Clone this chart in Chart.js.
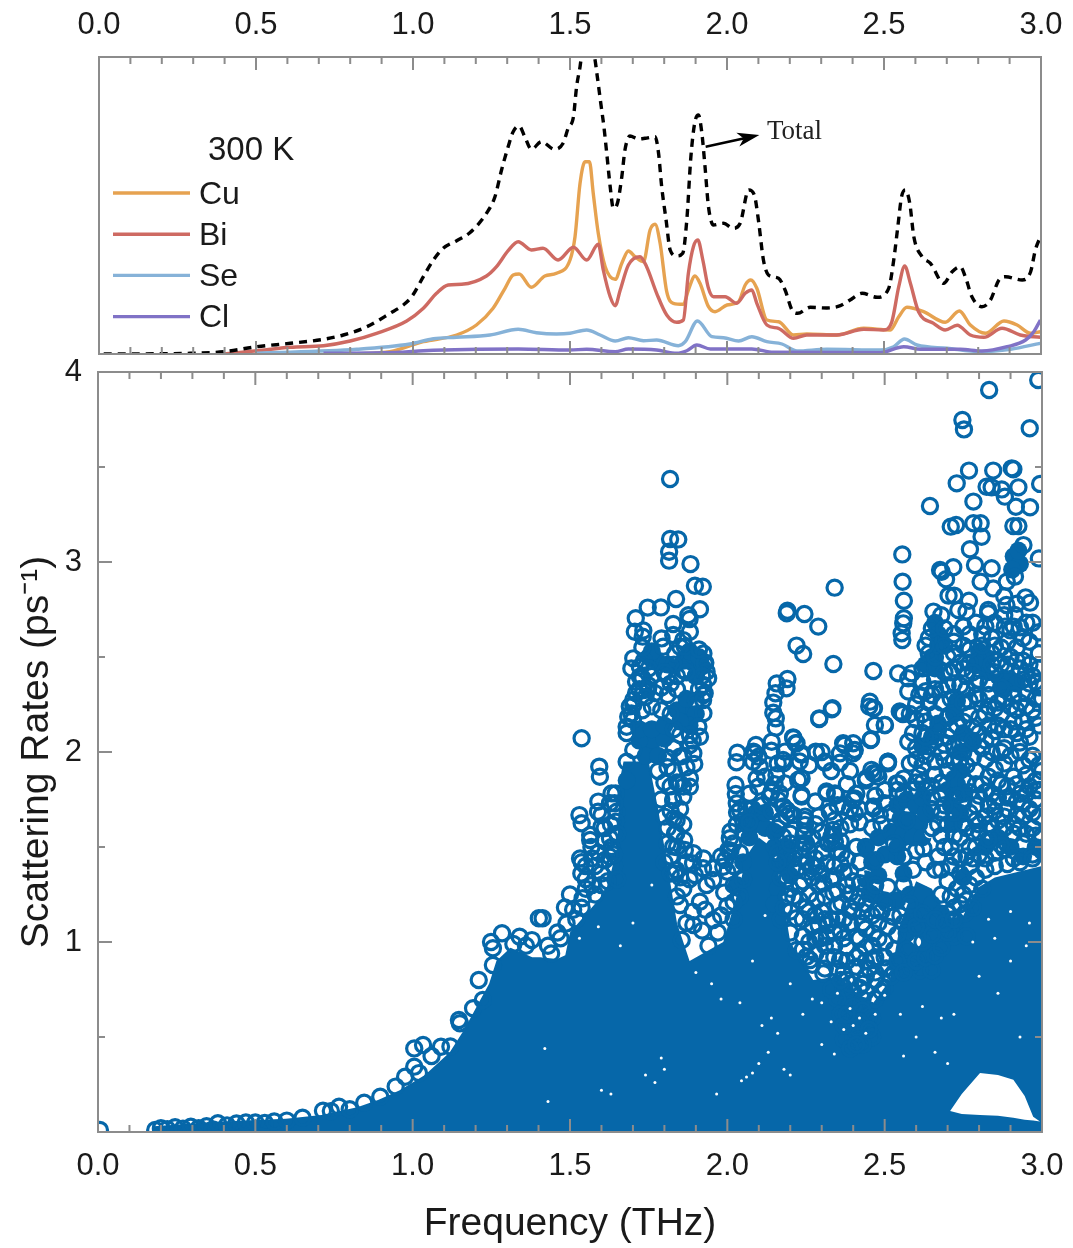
<!DOCTYPE html>
<html>
<head>
<meta charset="utf-8">
<title>Scattering rates</title>
<script src="https://cdn.jsdelivr.net/npm/chart.js@4"></script>
<style>
  html, body { margin: 0; padding: 0; background: #fff; }
  body { width: 1073px; height: 1248px; position: relative; overflow: hidden; }
  canvas { position: absolute; left: 0; }
  #dos { top: 0; }
  #rates { top: 354px; }
</style>
</head>
<body>
<canvas id="dos" width="1073" height="356"></canvas>
<canvas id="rates" width="1073" height="894"></canvas>
<script>
// ---- top panel: density of states (arbitrary units) ----
const totalFreq = [0.015,0.29,0.397,0.503,0.609,0.715,0.778,0.853,0.927,0.969,0.996,1.033,1.065,1.096,1.139,1.181,1.234,1.261,1.282,1.303,1.319,1.338,1.356,1.377,1.409,1.451,1.478,1.494,1.511,1.521,1.532,1.538,1.558,1.578,1.587,1.598,1.608,1.617,1.628,1.638,1.651,1.665,1.675,1.691,1.718,1.739,1.771,1.782,1.792,1.806,1.819,1.84,1.859,1.872,1.885,1.897,1.909,1.92,1.93,1.941,1.957,1.989,2.02,2.042,2.069,2.087,2.1,2.116,2.132,2.164,2.185,2.207,2.225,2.265,2.318,2.361,2.392,2.43,2.478,2.515,2.531,2.544,2.556,2.568,2.582,2.595,2.621,2.648,2.69,2.717,2.743,2.759,2.78,2.812,2.839,2.866,2.887,2.94,2.967,2.982,2.998];
const totalDos = [0,0.07,0.23,0.73,1.07,1.47,1.9,2.73,4.07,4.9,5.73,7.73,9.4,10.57,11.33,12.13,14.07,15.73,18.4,20.73,22.23,22.8,21.73,20.47,21.23,20.47,21.07,22.57,23.73,26.73,28.73,30.07,31.6,29.73,27.73,25.07,22.73,20.07,16.73,14.57,15.07,17.73,20.4,21.8,21.5,21.57,21.73,20.07,16.73,13.4,10.4,9.8,10.07,13.4,19.73,23.07,23.9,22.07,18.73,14.73,12.9,13.07,12.57,13.07,16.4,15.9,13.4,9.4,7.9,7.57,6.4,4.4,4.07,4.67,4.6,4.83,5.4,6.07,5.67,6.57,9.4,12.73,15.73,16.4,15.07,11.73,9.73,9.07,7.07,8.23,8.73,7.73,5.73,4.73,5.4,7.4,7.73,7.4,8.23,10.4,11.73];

const cuFreq = [0.821,0.927,1.033,1.139,1.202,1.255,1.293,1.319,1.338,1.377,1.42,1.457,1.5,1.516,1.532,1.548,1.562,1.574,1.59,1.612,1.644,1.665,1.686,1.707,1.734,1.755,1.771,1.787,1.808,1.829,1.861,1.877,1.898,1.914,1.941,1.962,2.0,2.037,2.058,2.076,2.095,2.127,2.164,2.212,2.254,2.35,2.435,2.52,2.547,2.573,2.626,2.695,2.74,2.775,2.823,2.882,2.924,2.967,2.998];
const cuDos = [0,0.23,1.23,1.9,2.9,4.57,6.57,7.9,8.0,6.67,7.8,8.07,9.4,11.73,17.07,19.23,19.23,16.07,12.07,8.73,7.47,9.07,10.3,9.73,9.23,12.4,12.97,11.07,6.23,5.07,4.97,6.4,7.8,7.07,4.73,4.23,4.9,5.23,6.9,7.4,6.57,3.4,3.23,1.9,2.0,1.9,2.57,2.4,3.73,4.67,4.23,3.17,4.3,2.9,2.07,3.3,2.9,2.07,2.23];

const biFreq = [0.397,0.503,0.609,0.715,0.8,0.884,0.98,1.033,1.075,1.112,1.155,1.234,1.266,1.303,1.335,1.377,1.414,1.462,1.511,1.553,1.59,1.606,1.628,1.644,1.66,1.686,1.723,1.744,1.776,1.808,1.84,1.861,1.877,1.893,1.907,1.923,1.941,1.957,1.994,2.031,2.058,2.079,2.095,2.127,2.164,2.212,2.254,2.35,2.435,2.499,2.525,2.547,2.566,2.584,2.61,2.658,2.695,2.733,2.775,2.818,2.876,2.934,2.998];
const biDos = [0,0.33,0.67,0.83,1.3,2.07,3.3,4.57,6.07,6.9,6.97,7.8,8.73,10.33,11.23,10.4,10.57,9.4,10.67,9.4,10.97,8.4,5.73,4.83,6.4,8.9,9.73,8.73,6.07,3.9,3.17,3.4,8.07,10.73,11.4,9.4,6.57,5.73,5.73,5.07,6.07,6.4,5.07,2.9,2.57,1.57,1.9,1.9,2.47,2.4,3.23,6.73,8.8,7.07,4.23,3.07,2.4,2.87,1.9,1.67,2.57,1.9,1.67];

const seFreq = [0.503,0.821,0.99,1.065,1.139,1.245,1.335,1.393,1.457,1.5,1.553,1.596,1.644,1.686,1.734,1.776,1.845,1.867,1.906,1.952,1.989,2.037,2.079,2.127,2.175,2.223,2.318,2.488,2.531,2.565,2.605,2.701,2.807,2.903,2.998];
const seDos = [0.07,0.47,1,1.53,1.67,1.9,2.47,2.13,2,2.07,2.4,1.9,1.3,1.63,1.33,1.4,0.83,1.23,3.3,1.73,1.63,1.3,1.73,1.23,1,0.3,0.47,0.4,0.73,1.5,0.9,0.57,0.23,0.47,1.07];

const clFreq = [0.715,0.96,1.033,1.335,1.499,1.553,1.644,1.686,1.776,1.84,1.872,1.904,1.947,2.079,2.148,2.488,2.563,2.616,2.743,2.812,2.892,2.951,2.977,2.998];
const clDos = [0.07,0.17,0.33,0.5,0.4,0.47,0.23,0.5,0.4,0.07,0.33,0.9,0.5,0.5,0.17,0.13,0.73,0.47,0.47,0.3,0.73,1.4,2.23,3.4];

const legendNames = ['Cu', 'Bi', 'Se', 'Cl'];
const legendColors = ['#E6A250', '#CE6A62', '#86B2D8', '#8072C6'];

// ---- lower panel: scattering rates, [frequency, rate] ----
const coreFreq = [0.17,0.177,0.392,0.597,0.71,0.824,0.892,0.959,1.039,1.118,1.164,1.21,1.243,1.266,1.311,1.38,1.405,1.459,1.485,1.5,1.563,1.616,1.65,1.658,1.67,1.75,1.78,1.8,1.82,1.84,1.88,1.987,2.04,2.06,2.1,2.14,2.16,2.18,2.2,2.273,2.36,2.411,2.464,2.517,2.55,2.6,2.65,2.7,2.75,2.79,2.85,3.0];
const coreRate = [0,0.03,0.055,0.07,0.09,0.13,0.17,0.22,0.3,0.42,0.54,0.68,0.78,0.9,0.97,0.92,0.92,0.91,0.93,1.05,1.17,1.27,1.5,1.85,1.95,1.95,1.7,1.5,1.3,1.1,0.9,1.0,1.3,1.45,1.55,1.5,1.38,1.2,1.0,0.8,0.82,0.72,0.68,0.8,1.1,1.32,1.28,1.12,1.14,1.28,1.34,1.4];

const holeFreq = [2.708,2.745,2.803,2.86,2.909,2.945,2.972,2.994];
const holeTop = [0.11,0.2,0.31,0.3,0.275,0.19,0.08,0.055];
const holeBottom = [0.11,0.095,0.09,0.085,0.075,0.065,0.06,0.055];

const ringsEdge = [[0.006,0.011],[0.182,0.011],[0.2,0.02],[0.22,0.015],[0.245,0.025],[0.27,0.018],[0.295,0.028],[0.32,0.02],[0.345,0.03],[0.365,0.014],[0.381,0.046],[0.41,0.035],[0.44,0.045],[0.47,0.05],[0.5,0.05],[0.53,0.048],[0.56,0.055],[0.6,0.06],[0.65,0.075],[0.715,0.112],[0.74,0.11],[0.766,0.133],[0.8,0.12],[0.846,0.154],[0.897,0.186],[0.946,0.239],[0.976,0.291],[1.005,0.344],[1.02,0.31],[1.005,0.44],[1.033,0.458],[1.06,0.4],[1.09,0.449],[1.12,0.45],[1.147,0.59],[1.15,0.572],[1.192,0.651],[1.21,0.8],[1.223,0.695],[1.249,1.0],[1.255,0.967],[1.255,0.879],[1.284,1.046],[1.34,1.028],[1.379,1.01],[1.401,1.125],[1.413,1.125],[1.36,0.98],[1.32,0.99],[1.44,0.94],[1.484,1.182],[1.489,1.098],[1.47,1.02],[1.52,1.12],[1.54,1.23],[1.537,1.18],[1.532,1.44],[1.537,1.42],[1.536,1.361],[1.55,1.33],[1.53,1.668],[1.537,1.625],[1.537,2.072],[1.593,1.923],[1.59,1.739],[1.6,1.668],[1.564,1.563],[1.564,1.537],[1.632,1.782],[1.645,1.782],[1.648,1.686],[1.627,1.546],[1.632,1.484],[1.61,1.43],[1.58,1.4],[1.6,1.36],[1.57,1.3],[1.62,1.32],[1.63,1.62],[1.61,1.6],[1.595,1.87],[1.627,1.73],[1.642,1.73],[1.589,1.686],[1.6,1.607],[1.646,1.633],[1.568,1.5],[1.632,1.5],[1.627,1.449],[1.55,1.28],[1.58,1.25],[1.6,1.3],[1.64,1.4],[1.65,1.33],[1.59,1.47],[1.57,1.44],[1.55,1.4],[1.61,1.53],[1.65,1.57],[1.64,1.46],[1.51,1.17],[1.46,1.05],[1.5,1.25],[1.43,0.98]];

const ringsPeak = [[1.818,3.437],[1.818,3.121],[1.844,3.119],[1.815,3.054],[1.815,3.007],[1.883,2.989],[1.897,2.875],[1.922,2.87],[1.837,2.805],[1.747,2.76],[1.789,2.761],[1.709,2.704],[1.876,2.72],[1.913,2.751],[1.88,2.7],[1.828,2.674],[1.731,2.607],[1.733,2.64],[1.791,2.598],[1.86,2.589],[1.85,2.554],[1.834,2.519],[1.924,2.519],[1.934,2.423],[1.93,2.47],[1.924,2.353],[1.924,2.3],[1.924,2.204],[1.908,2.133],[1.881,2.09],[1.892,1.993],[1.685,2.186],[1.701,2.274],[1.69,2.24],[1.71,2.31],[1.701,2.493],[1.722,2.449],[1.735,2.48],[1.73,2.39],[1.75,2.35],[1.77,2.31],[1.72,2.33],[1.68,2.1],[1.7,2.17],[1.73,2.22],[1.76,2.24],[1.79,2.22],[1.81,2.3],[1.82,2.36],[1.84,2.4],[1.86,2.43],[1.83,2.46],[1.9,2.4],[1.91,2.33],[1.9,2.27],[1.89,2.06],[1.85,2.09],[1.83,2.02],[1.86,1.98],[1.81,1.97],[1.83,1.9],[1.87,1.92],[1.84,1.84],[1.881,1.861],[1.86,1.818],[1.828,1.747],[1.839,1.642],[1.834,1.572],[1.863,1.537],[1.892,1.467],[1.924,1.44],[1.82,1.69],[1.85,1.7],[1.81,1.6],[1.86,1.62],[1.84,1.5],[1.82,1.45],[1.834,1.361],[1.897,1.353],[1.955,1.388],[1.87,1.42],[1.88,1.33],[1.86,1.28],[1.84,1.24],[1.85,1.195],[1.913,1.212],[1.892,1.089],[1.955,1.116],[1.855,1.011],[1.934,1.3],[1.93,1.17],[1.98,1.14],[1.89,1.16],[1.92,1.06],[1.87,1.1],[1.706,2.633],[1.828,2.616],[1.881,2.633],[1.73,2.55],[1.796,2.554],[1.865,2.554],[1.695,2.44],[1.722,2.396],[1.733,2.326],[1.748,2.33],[1.928,2.467],[1.939,2.388],[1.928,2.309],[1.923,2.274],[1.701,2.247],[1.695,2.203],[1.68,2.133],[1.913,2.08],[1.881,2.037],[1.895,1.937],[1.849,1.975],[1.68,1.949],[1.701,2.01],[1.881,1.817],[1.849,1.835],[1.86,1.765],[1.828,1.747],[1.838,1.572],[1.828,1.502],[1.865,1.484],[1.891,1.414],[1.923,1.388],[1.838,1.379],[1.81,1.52],[1.8,1.66],[1.79,1.75],[1.8,1.84],[1.81,1.92],[1.82,1.82],[1.78,1.9],[1.83,1.65],[1.8,1.42],[1.82,1.36],[1.85,1.34],[1.79,2.34],[1.81,2.4],[1.76,2.4],[1.74,2.29],[1.71,2.37],[1.75,2.44],[1.8,2.42],[1.84,2.33],[1.83,2.12],[1.82,2.2],[1.92,2.4],[1.91,2.54],[1.87,2.42]];

const ringsValley = [[2.026,1.826],[2.093,1.861],[2.03,1.73],[2.04,1.695],[2.008,1.546],[1.993,1.432],[1.98,1.45],[2.01,1.48],[2.05,1.58],[2.0,1.37],[1.99,1.26],[2.02,1.3],[2.07,1.78],[2.12,1.87],[2.15,1.83],[2.162,1.747],[2.189,1.695],[2.21,1.668],[2.14,1.79],[2.17,1.64],[2.2,1.57],[2.18,1.5],[2.16,1.47],[2.19,1.42],[2.236,1.861],[2.236,1.774],[2.247,1.66],[2.247,1.616],[2.242,1.563],[2.231,1.484],[2.252,1.37],[2.242,1.318],[2.189,1.239],[2.22,1.125],[2.279,1.142],[2.295,1.019],[2.252,0.923],[2.316,1.782],[2.342,1.782],[2.326,1.686],[2.337,1.563],[2.342,1.528],[2.363,1.467],[2.4,1.747],[2.464,1.704],[2.42,1.63],[2.464,1.888],[2.475,1.888],[2.51,1.94],[2.485,1.668],[2.543,1.835],[2.21,1.44],[2.26,1.48],[2.2,1.28],[2.23,1.22],[2.25,1.18],[2.17,1.12],[2.2,1.05],[2.24,1.03],[2.27,1.08],[2.284,1.396],[2.316,1.414],[2.337,1.344],[2.305,1.309],[2.284,1.221],[2.337,1.256],[2.363,1.204],[2.39,1.256],[2.422,1.309],[2.453,1.256],[2.475,1.168],[2.506,1.204],[2.527,1.133],[2.464,1.046],[2.411,1.028],[2.379,0.975],[2.358,0.905],[2.295,1.028],[2.316,1.028],[2.263,0.905],[2.22,0.958],[2.305,0.835],[2.464,0.905],[2.506,0.861],[2.549,0.905],[2.58,0.87],[2.612,0.853],[2.649,0.853],[2.57,1.046],[2.612,1.08],[2.33,1.12],[2.39,1.1],[2.43,1.16],[2.44,0.97],[2.5,1.0],[2.53,0.96],[2.41,0.87],[2.34,0.98],[2.38,0.8],[2.43,0.78],[2.47,0.8],[2.38,0.68],[2.41,0.62],[2.39,0.58],[2.44,0.56],[2.4,0.5],[2.42,0.52],[2.37,0.49],[2.46,0.5],[2.3,1.47],[2.27,1.55],[2.36,1.6],[2.39,1.62],[2.44,1.5],[2.47,1.43],[2.42,1.42],[2.37,1.37],[2.29,1.66],[2.28,1.74],[2.38,1.83],[2.26,1.93],[2.3,2.0],[2.41,1.78],[2.44,1.85],[2.5,1.8],[2.47,1.77],[2.35,1.72],[2.39,1.9],[2.33,1.9],[2.153,2.309],[2.188,2.335],[2.146,2.207],[2.154,2.128],[2.029,1.946],[2.087,1.993],[2.103,1.923],[2.082,1.949],[2.14,2.007],[2.156,1.879],[2.177,1.958],[2.027,1.779],[2.031,1.681],[2.098,1.817],[2.135,1.765],[2.167,1.782],[2.06,1.7],[2.019,1.519],[2.003,1.484],[2.188,1.66],[2.177,1.554],[2.188,1.449],[1.987,1.396],[1.955,1.326],[2.05,1.64],[2.08,1.7],[2.11,1.72],[2.14,1.69],[2.16,1.6],[2.03,1.62],[2.02,1.4],[2.0,1.19],[1.97,1.05],[1.94,0.98],[2.02,1.12],[2.04,1.24],[2.17,1.34],[2.2,1.16],[2.24,1.12],[2.23,1.3],[2.27,1.34],[2.26,1.25],[2.3,1.16],[2.31,1.24],[2.35,1.19],[2.32,1.09],[2.36,1.06],[2.4,1.16],[2.41,1.21],[2.44,1.07],[2.48,1.1],[2.26,1.0],[2.28,0.94],[2.32,0.92],[2.35,0.86],[2.38,0.9],[2.42,0.94],[2.46,0.98],[2.5,0.92],[2.45,0.86],[2.53,0.84],[2.57,0.96],[2.4,0.74],[2.37,0.76],[2.35,0.7],[2.33,0.75],[2.43,0.7],[2.45,0.64],[2.47,0.7],[2.5,0.76],[2.52,0.82],[2.36,0.62],[2.43,0.46],[2.39,0.44],[2.44,0.6],[2.41,0.55],[2.37,0.56],[2.3,1.36],[2.34,1.4],[2.4,1.32],[2.38,1.44],[2.41,1.5],[2.28,1.44],[2.25,1.42],[2.32,1.52],[2.35,1.48],[2.3,1.58],[2.25,1.52],[2.34,1.64],[2.39,1.7],[2.42,1.7],[2.36,1.53],[2.28,1.62],[2.234,1.862],[2.225,1.853],[2.236,1.765],[2.178,1.941],[2.183,1.835],[2.315,1.792],[2.347,1.774],[2.326,1.686],[2.368,1.713],[2.405,1.756],[2.464,1.713],[2.246,1.642],[2.246,1.581],[2.241,1.52],[2.336,1.59],[2.331,1.555],[2.331,1.52],[2.199,1.678],[2.178,1.713],[2.199,1.52],[2.405,1.678],[2.292,2.177],[2.334,2.23],[2.451,2.239],[2.464,2.23],[2.469,2.142],[2.5,2.142],[2.548,2.213],[2.455,2.063],[2.209,2.077],[2.22,2.046],[2.236,1.985],[2.281,2.002],[2.31,1.944],[2.358,1.944],[2.358,1.993],[2.368,2.046],[2.405,2.011],[2.4,2.046],[2.511,1.949],[2.458,1.906],[2.48,1.87],[2.442,1.862],[2.538,1.835]];

const ringsHigh = [[2.988,3.958],[2.832,3.905],[2.747,3.747],[2.752,3.698],[2.961,3.704],[2.768,3.481],[2.845,3.481],[2.904,3.493],[2.909,3.488],[2.729,3.414],[2.824,3.396],[2.84,3.393],[2.872,3.382],[2.882,3.344],[2.925,3.393],[2.994,3.411],[2.782,3.318],[2.917,3.291],[2.962,3.288],[2.644,3.295],[2.71,3.186],[2.727,3.195],[2.782,3.204],[2.805,3.204],[2.808,3.133],[2.909,3.189],[2.925,3.189],[2.771,3.067],[2.787,2.984],[2.84,2.967],[2.99,3.019],[2.941,3.089],[2.556,3.04],[2.557,2.896],[2.561,2.796],[2.561,2.704],[2.559,2.677],[2.554,2.625],[2.556,2.589],[2.676,2.958],[2.681,2.949],[2.695,2.909],[2.718,2.972],[2.805,2.896],[2.845,2.861],[2.888,2.896],[2.914,2.923],[2.703,2.823],[2.721,2.823],[2.768,2.796],[2.829,2.747],[2.829,2.73],[2.887,2.774],[2.948,2.814],[2.962,2.786],[2.655,2.739],[2.734,2.747],[2.76,2.739],[2.914,2.721],[2.882,2.66],[2.93,2.656],[2.75,2.66],[2.543,2.414],[2.575,2.388],[2.586,2.414],[2.575,2.318],[2.554,2.204],[2.558,2.2],[2.575,2.054],[2.501,2.142],[2.464,2.426],[2.453,2.265],[2.466,2.23],[2.457,2.067],[2.51,1.949],[2.341,2.865],[2.337,2.463],[2.191,2.744],[2.189,2.73],[2.245,2.726],[2.289,2.66],[2.22,2.56],[2.241,2.516],[2.157,2.361],[2.191,2.384],[2.146,2.26],[2.154,2.177],[2.292,2.174],[2.332,2.225],[2.372,2.037],[2.403,2.01],[2.4,1.993],[2.282,1.996],[2.21,2.072],[2.217,2.046],[2.141,2.054],[2.091,2.037],[2.083,2.002],[2.099,1.975],[2.032,1.996],[2.183,2.002],[2.236,1.993],[2.31,1.949],[2.16,1.94],[2.23,1.95],[2.62,2.44],[2.64,2.52],[2.67,2.56],[2.66,2.33],[2.62,2.37],[2.61,2.3],[2.64,2.26],[2.69,2.42],[2.7,2.5],[2.7,2.35],[2.72,2.58],[2.75,2.56],[2.72,2.44],[2.76,2.4],[2.76,2.33],[2.74,2.35],[2.79,2.36],[2.8,2.28],[2.83,2.3],[2.85,2.23],[2.77,2.2],[2.82,2.2],[2.88,2.28],[2.92,2.22],[2.86,2.14],[2.9,2.12],[2.94,2.16],[2.97,2.22],[2.99,2.14],[2.96,2.08],[2.93,2.05],[2.88,2.02],[2.84,2.07],[2.8,2.1],[2.71,2.12],[2.69,2.04],[2.62,2.1],[2.6,2.17],[2.64,2.03],[2.6,2.02],[2.85,2.56],[2.89,2.58],[2.92,2.55],[2.94,2.48],[2.96,2.58],[2.99,2.52],[2.97,2.4],[2.99,2.34],[2.95,2.31],[2.9,2.64],[2.86,2.48],[2.84,2.6],[2.99,2.63],[3.0,2.28],[2.77,2.62],[2.79,2.68],[2.81,2.62]];

const ringsRight = [[2.57,1.64],[2.58,1.94],[2.62,1.93],[2.66,1.88],[2.69,1.96],[2.72,1.95],[2.76,1.93],[2.79,1.9],[2.82,1.96],[2.85,1.91],[2.88,1.94],[2.91,1.87],[2.94,1.93],[2.97,1.98],[3.0,1.9],[2.99,1.8],[2.96,1.82],[2.93,1.78],[2.9,1.76],[2.87,1.83],[2.84,1.78],[2.81,1.83],[2.79,1.72],[2.77,1.68],[2.82,1.66],[2.85,1.69],[2.88,1.66],[2.92,1.67],[2.96,1.7],[2.99,1.66],[2.65,1.7],[2.68,1.78],[2.65,1.6],[2.68,1.56],[2.67,1.45],[2.623,1.493],[2.71,1.5],[2.74,1.55],[2.77,1.5],[2.71,1.4],[2.74,1.36],[2.71,1.239],[2.724,1.116],[2.755,1.151],[2.77,1.3],[2.75,1.25],[2.7,1.15],[2.72,1.03],[2.76,1.03],[2.8,1.58],[2.84,1.6],[2.88,1.6],[2.93,1.6],[2.97,1.6],[3.0,1.56],[2.78,1.44],[2.74,1.44],[2.7,1.32],[2.68,1.25],[2.72,1.18],[2.68,1.38],[2.7,1.62],[2.68,1.68],[2.63,1.8],[2.6,1.84],[2.56,1.86],[2.54,1.8],[2.76,1.6],[2.79,1.64],[2.83,1.72],[2.86,1.76],[2.89,1.7],[2.94,1.73],[2.98,1.75],[2.75,1.73],[2.77,1.79],[2.8,1.77],[2.83,1.87],[2.86,1.85],[2.89,1.82],[2.92,1.83],[2.95,1.88],[2.98,1.85],[2.99,1.93],[2.96,1.96],[2.93,2.0],[2.9,1.98],[2.87,2.0],[2.84,2.0],[2.81,2.02],[2.78,1.97],[2.75,2.0],[2.72,2.03],[2.68,2.0],[2.66,1.95],[2.63,1.98],[2.6,1.96],[2.61,1.88],[2.67,2.12],[2.7,2.18],[2.66,2.2],[2.63,2.16],[2.68,2.26],[2.71,2.28],[2.75,2.16],[2.78,2.13],[2.83,2.14],[2.87,2.2],[2.91,2.16],[2.95,2.24],[2.98,2.28],[2.94,2.38],[2.91,2.3],[2.87,2.34],[2.83,2.36],[2.79,2.3],[2.75,2.26],[2.72,2.36],[2.66,2.38],[2.63,2.32],[2.6,2.25],[2.58,2.2],[2.59,2.1],[2.66,2.5],[2.69,2.56],[2.72,2.52],[2.77,2.47],[2.75,2.44],[2.72,2.62],[2.64,2.6],[2.63,2.56],[2.65,2.65],[2.68,2.72],[2.69,2.65],[2.77,2.54],[2.84,2.52],[2.87,2.55],[2.9,2.5],[2.93,2.44],[2.96,2.46],[2.99,2.44],[2.85,2.42],[2.87,2.46],[2.81,2.56],[2.82,2.66],[2.85,2.68],[2.88,2.72],[2.91,2.66],[2.94,2.6],[2.97,2.68],[2.95,2.68],[2.92,2.78],[2.88,2.82]];

// second pass over the crowded parts of the mid range
const ringsFill = [[2.02,1.21],[2.05,1.33],[2.01,1.58],[2.07,1.63],[2.04,1.47],[2.16,1.42],[2.19,1.33],[2.21,1.24],[2.18,1.18],[2.22,1.38],[2.24,1.45],[2.27,1.4],[2.29,1.3],[2.26,1.16],[2.29,1.09],[2.31,1.12],[2.34,1.05],[2.37,1.12],[2.39,1.18],[2.42,1.24],[2.38,1.3],[2.35,1.27],[2.33,1.33],[2.36,1.41],[2.39,1.37],[2.43,1.1],[2.46,1.14],[2.49,1.16],[2.51,1.08],[2.54,1.04],[2.56,1.1],[2.59,1.13],[2.48,1.02],[2.42,1.02],[2.37,1.02],[2.31,0.98],[2.28,1.02],[2.24,0.96],[2.27,0.88],[2.31,0.86],[2.34,0.92],[2.37,0.84],[2.41,0.92],[2.44,0.9],[2.47,0.92],[2.5,0.86],[2.54,0.9],[2.56,0.84],[2.6,0.9],[2.63,0.92],[2.66,0.93],[2.68,0.97],[2.7,1.05],[2.62,1.0],[2.65,1.04],[2.6,1.08],[2.44,0.82],[2.47,0.84],[2.42,0.76],[2.39,0.78],[2.36,0.8],[2.44,0.74],[2.49,0.74],[2.4,0.66],[2.43,0.64],[2.46,0.6],[2.42,0.58],[2.38,0.62],[2.41,0.46],[2.45,0.54],[2.35,1.12],[2.44,1.2],[2.47,1.3],[2.51,1.29],[2.55,1.14],[2.58,1.2],[2.62,1.15],[2.66,1.12],[2.69,1.1],[2.56,1.3],[2.59,1.38],[2.56,1.45],[2.6,1.48],[2.63,1.42],[2.66,1.38],[2.53,1.52],[2.49,1.62],[2.46,1.6],[2.52,1.68],[2.5,1.73],[2.56,1.78],[2.59,1.8],[2.62,1.84],[2.65,1.82],[2.68,1.84],[2.7,1.9],[2.74,1.96],[2.67,1.62],[2.69,1.5],[2.72,1.45],[2.76,1.45],[2.79,1.5],[2.82,1.44],[2.85,1.47],[2.88,1.49],[2.91,1.44],[2.94,1.52],[2.97,1.46],[3.0,1.48],[2.98,1.56],[2.95,1.57],[2.91,1.57],[2.87,1.51],[2.83,1.54],[2.8,1.46],[2.77,1.4],[2.73,1.28],[2.76,1.22],[2.79,1.34],[2.82,1.38],[2.85,1.4],[2.89,1.41],[2.93,1.42],[2.97,1.44],[2.74,1.2],[2.78,1.18],[2.81,1.28],[2.72,1.12],[2.8,1.62],[2.83,1.62],[2.86,1.64],[2.91,1.62],[2.94,1.66],[2.97,1.68],[2.89,1.76],[2.92,1.74],[2.95,1.78],[2.98,1.8],[2.85,1.74],[2.82,1.79],[2.79,1.83],[2.76,1.84],[2.73,1.77],[2.78,1.58],[2.72,1.56],[2.75,1.62],[2.72,1.68],[2.69,1.72],[2.65,1.76],[2.75,2.05],[2.78,2.06],[2.82,2.06],[2.85,2.11],[2.88,2.12],[2.92,2.1],[2.95,2.12],[2.98,2.18],[2.93,2.26],[2.9,2.24],[2.86,2.26],[2.83,2.24],[2.8,2.18],[2.77,2.27],[2.73,2.14],[2.7,2.08],[2.66,2.06],[2.63,2.08],[2.62,2.2],[2.65,2.3],[2.68,2.33],[2.71,2.42],[2.74,2.47],[2.78,2.42],[2.8,2.38],[2.84,2.46],[2.89,2.46],[2.92,2.48],[2.95,2.42],[2.98,2.37],[2.96,2.36]];

// tight clumps where the rings merge to a solid patch
const clumps = [[1.78,2.47],[1.75,2.5],[1.81,2.46],[1.89,2.47],[1.86,2.48],[1.92,2.45],[1.9,2.4],[1.87,2.2],[1.9,2.2],[1.84,2.22],[1.87,2.28],[1.76,2.05],[1.72,2.06],[1.8,2.07],[1.74,1.98],[1.78,1.98],[1.68,1.85],[1.72,2.12],[1.76,2.12],[1.8,2.14],[1.88,2.14],[1.85,2.16],[1.76,2.53],[1.88,2.53],[1.91,2.5],[2.09,1.62],[2.12,1.6],[2.07,1.55],[2.15,1.5],[2.05,1.42],[2.17,1.4],[2.03,1.3],[2.19,1.5],[2.18,1.42],[2.2,1.35],[2.09,1.68],[2.12,1.68],[2.06,1.62],[2.15,1.58],[2.44,1.5],[2.48,1.55],[2.52,1.58],[2.56,1.55],[2.46,1.42],[2.5,1.46],[2.54,1.45],[2.44,1.33],[2.48,1.35],[2.56,1.36],[2.46,1.25],[2.5,1.22],[2.54,1.22],[2.58,1.25],[2.66,2.68],[2.67,2.62],[2.68,2.57],[2.65,2.5],[2.63,2.46],[2.66,2.44],[2.8,2.53],[2.82,2.5],[2.79,2.46],[2.83,2.42],[2.86,2.4],[2.89,2.38],[2.92,2.36],[2.88,2.33],[2.73,2.27],[2.72,2.2],[2.67,2.15],[2.65,2.08],[2.62,2.03],[2.75,2.1],[2.78,2.05],[2.74,2.0],[2.91,3.03],[2.93,2.99],[2.905,2.96],[2.925,3.06],[2.54,1.72],[2.57,1.75],[2.6,1.72],[2.55,1.65],[2.58,1.64],[2.61,1.62],[2.56,1.57],[2.59,1.55],[2.54,1.5],[2.62,1.55],[2.63,1.68],[2.62,1.76],[2.7,1.8],[2.73,1.83],[2.75,1.78],[2.71,1.72],[2.74,1.68],[2.72,1.62],[2.74,1.9],[2.72,1.86],[2.82,1.5],[2.86,1.55],[2.9,1.5],[2.94,1.45],[2.98,1.5],[2.75,1.34],[2.62,1.25],[2.65,1.2],[2.68,1.15],[2.64,1.1],[2.16,1.28],[2.15,1.2]];

// white gaps among the merged rings
const gaps = [[2.675,1.765],[2.643,1.572],[2.802,1.607],[2.776,1.274],[2.712,1.256],[2.807,2.107],[2.686,2.01],[2.823,1.853],[2.786,2.291],[2.723,2.414],[2.749,2.668],[2.853,2.44],[2.935,2.195],[2.982,2.063],[2.908,1.73],[2.27,1.2],[2.36,1.28],[2.31,1.42],[2.42,1.36],[2.22,1.28],[2.6,1.0],[2.47,1.0],[2.25,0.98]];

// pin-holes left between rings inside the solid mass
const specks = [[2.061,0.29],[2.045,0.27],[2.08,0.31],[2.1,0.36],[1.77,0.26],[1.74,0.3],[1.8,0.33],[1.79,0.39],[1.43,0.16],[1.966,0.2],[1.6,0.22],[1.63,0.2],[2.13,0.42],[2.18,0.33],[2.2,0.3],[2.16,0.52],[2.14,0.6],[2.11,0.56],[2.04,0.68],[1.98,0.7],[1.95,0.78],[2.3,0.46],[2.34,0.41],[1.66,0.98],[1.7,1.1],[1.42,0.44],[2.72,0.62],[2.86,0.73],[2.93,0.5],[2.6,0.5],[2.56,0.4],[2.24,0.62],[2.27,0.7],[2.3,0.68],[2.33,0.58],[2.2,0.78],[2.55,0.62],[2.62,0.66],[2.68,0.6],[2.8,0.82],[2.9,0.9],[2.95,0.98],[1.53,1.02],[1.59,1.08],[1.76,1.3],[1.9,0.84],[2.08,0.9],[2.12,1.14],[2.66,0.42],[2.7,0.36],[2.4,0.56],[2.44,0.52],[2.37,0.54],[2.42,0.6],[2.39,0.65],[2.35,0.73],[2.47,0.62],[2.5,0.72],[2.85,1.02],[2.9,1.16],[2.96,1.1],[2.78,1.0],[2.83,1.12]];

// tick positions (THz and ps-1)
const majorFreq = [0,0.5,1,1.5,2,2.5,3];
const minorFreq = [0.1,0.2,0.3,0.4,0.6,0.7,0.8,0.9,1.1,1.2,1.3,1.4,1.6,1.7,1.8,1.9,2.1,2.2,2.3,2.4,2.6,2.7,2.8,2.9];
const majorRate = [1,2,3];
const minorRate = [0.5,1.5,2.5,3.5];

const BLUE = '#0667A9';
const FRAME = '#8c8c8c';
const SANS = "'Liberation Sans', Arial, sans-serif";

const xy = (xs, ys) => xs.map((x, i) => ({ x, y: ys[i] }));
const pairs = list => list.map(p => ({ x: p[0], y: p[1] }));

function curve(xs, ys, color, extra) {
  return { data: xy(xs, ys), showLine: true, borderColor: color, borderWidth: 3.4, pointRadius: 0, cubicInterpolationMode: 'monotone', ...extra };
}

// box round the plot and inward ticks on the sides asked for
function drawFrame(chart, sideTicks) {
  const { ctx, chartArea: a, scales } = chart;
  ctx.save();
  ctx.strokeStyle = FRAME;
  ctx.lineWidth = 2;
  ctx.strokeRect(a.left, a.top, a.right - a.left, a.bottom - a.top);
  const mark = (v, len) => {
    const x = scales.x.getPixelForValue(v);
    ctx.beginPath();
    ctx.moveTo(x, a.top); ctx.lineTo(x, a.top + len);
    ctx.moveTo(x, a.bottom); ctx.lineTo(x, a.bottom - len);
    ctx.stroke();
  };
  majorFreq.forEach(v => mark(v, 13));
  minorFreq.forEach(v => mark(v, 7));
  if (sideTicks) {
    const side = (v, len) => {
      const y = scales.y.getPixelForValue(v);
      ctx.beginPath();
      ctx.moveTo(a.left, y); ctx.lineTo(a.left + len, y);
      ctx.moveTo(a.right, y); ctx.lineTo(a.right - len, y);
      ctx.stroke();
    };
    majorRate.forEach(v => side(v, 14));
    minorRate.forEach(v => side(v, 7));
  }
  ctx.restore();
}

const dosLabels = {
  id: 'dosLabels',
  afterDraw(chart) {
    const { ctx, scales: { x, y } } = chart;
    ctx.save();
    ctx.textBaseline = 'middle';
    ctx.fillStyle = '#1a1a1a';
    ctx.font = '33px ' + SANS;
    ctx.fillText('300 K', 208, 151);
    ctx.font = '32px ' + SANS;
    legendNames.forEach((name, i) => {
      const ly = 193 + i * 41.2;
      ctx.strokeStyle = legendColors[i];
      ctx.lineWidth = 3.4;
      ctx.beginPath(); ctx.moveTo(113, ly); ctx.lineTo(190, ly); ctx.stroke();
      ctx.fillText(name, 199, ly + 2);
    });
    // arrow to the total curve
    const x0 = x.getPixelForValue(1.932), y0 = y.getPixelForValue(20.73);
    const x1 = x.getPixelForValue(2.103), y1 = y.getPixelForValue(21.9);
    const ang = Math.atan2(y1 - y0, x1 - x0);
    ctx.strokeStyle = '#000';
    ctx.lineWidth = 2.6;
    ctx.beginPath(); ctx.moveTo(x0, y0); ctx.lineTo(x1 - 14 * Math.cos(ang), y1 - 14 * Math.sin(ang)); ctx.stroke();
    ctx.fillStyle = '#000';
    ctx.beginPath();
    ctx.moveTo(x1, y1);
    ctx.lineTo(x1 - 22 * Math.cos(ang) - 7 * Math.sin(ang), y1 - 22 * Math.sin(ang) + 7 * Math.cos(ang));
    ctx.lineTo(x1 - 16 * Math.cos(ang), y1 - 16 * Math.sin(ang));
    ctx.lineTo(x1 - 22 * Math.cos(ang) + 7 * Math.sin(ang), y1 - 22 * Math.sin(ang) - 7 * Math.cos(ang));
    ctx.closePath(); ctx.fill();
    ctx.font = "27px 'Liberation Serif', 'Times New Roman', serif";
    ctx.fillStyle = '#222';
    ctx.fillText('Total', x.getPixelForValue(2.127), y.getPixelForValue(22.2));
    ctx.restore();
  },
  afterDatasetsDraw(chart) { drawFrame(chart, false); }
};

const rateFrame = {
  id: 'rateFrame',
  afterDatasetsDraw(chart) { drawFrame(chart, true); }
};

const freqTicks = {
  stepSize: 0.5, autoSkip: false, maxRotation: 0,
  color: '#1a1a1a', font: { family: SANS, size: 31 },
  callback: v => v.toFixed(1)
};

new Chart(document.getElementById('dos'), {
  type: 'scatter',
  plugins: [dosLabels],
  data: {
    datasets: [
      curve(totalFreq, totalDos, '#000', { borderDash: [8, 6] }),
      curve(clFreq, clDos, legendColors[3]),
      curve(seFreq, seDos, legendColors[2]),
      curve(biFreq, biDos, legendColors[1]),
      curve(cuFreq, cuDos, legendColors[0])
    ]
  },
  options: {
    responsive: false, animation: false, events: [],
    layout: { padding: { left: 99, right: 32, top: 0, bottom: 2 } },
    plugins: { legend: { display: false }, tooltip: { enabled: false } },
    scales: {
      x: {
        type: 'linear', position: 'top', min: 0, max: 3,
        grid: { display: false, drawTicks: false }, border: { display: false },
        ticks: { ...freqTicks, padding: 13 },
        afterFit: s => { s.height = 57; s.paddingLeft = 0; s.paddingRight = 0; }
      },
      y: { type: 'linear', display: false, min: 0, max: 29.7 }
    }
  }
});

new Chart(document.getElementById('rates'), {
  type: 'scatter',
  plugins: [rateFrame],
  data: {
    datasets: [
      { data: pairs(specks), pointRadius: 1.5, pointBorderWidth: 0, backgroundColor: '#fff' },
      { data: pairs([...ringsEdge, ...ringsPeak, ...ringsValley, ...ringsHigh, ...ringsRight, ...ringsFill]), pointRadius: 7.6, borderWidth: 3.2, borderColor: BLUE, backgroundColor: 'transparent' },
      { data: pairs(gaps), pointRadius: 5, pointBorderWidth: 0, backgroundColor: '#fff' },
      { data: pairs(clumps), pointRadius: 9, pointBorderWidth: 0, backgroundColor: BLUE },
      { data: xy(holeFreq, holeTop), showLine: true, borderWidth: 0, pointRadius: 0, fill: '+1', backgroundColor: '#fff' },
      { data: xy(holeFreq, holeBottom), showLine: true, borderWidth: 0, pointRadius: 0 },
      { data: xy(coreFreq, coreRate), showLine: true, borderWidth: 0, pointRadius: 0, fill: 'origin', backgroundColor: BLUE }
    ]
  },
  options: {
    responsive: false, animation: false, events: [],
    layout: { padding: { left: 0, right: 31, top: 18, bottom: 0 } },
    plugins: { legend: { display: false }, tooltip: { enabled: false } },
    scales: {
      x: {
        type: 'linear', min: 0, max: 3,
        grid: { display: false, drawTicks: false }, border: { display: false },
        ticks: { ...freqTicks, padding: 16 },
        title: { display: true, text: 'Frequency (THz)', color: '#1a1a1a', font: { family: SANS, size: 39 }, padding: { top: 22, bottom: 0 } },
        afterFit: s => { s.height = 116; s.paddingLeft = 0; s.paddingRight = 0; }
      },
      y: {
        type: 'linear', min: 0, max: 4,
        grid: { display: false, drawTicks: false }, border: { display: false },
        ticks: { stepSize: 1, color: '#1a1a1a', font: { family: SANS, size: 31 }, padding: 16, callback: v => (v === 0 ? '' : String(v)) },
        title: { display: true, text: 'Scattering Rates (ps\u207B\u00B9)', color: '#1a1a1a', font: { family: SANS, size: 39 }, padding: { top: 14, bottom: 0 } },
        afterFit: s => { s.width = 98; s.paddingTop = 0; s.paddingBottom = 0; }
      }
    }
  }
});
</script>
</body>
</html>
